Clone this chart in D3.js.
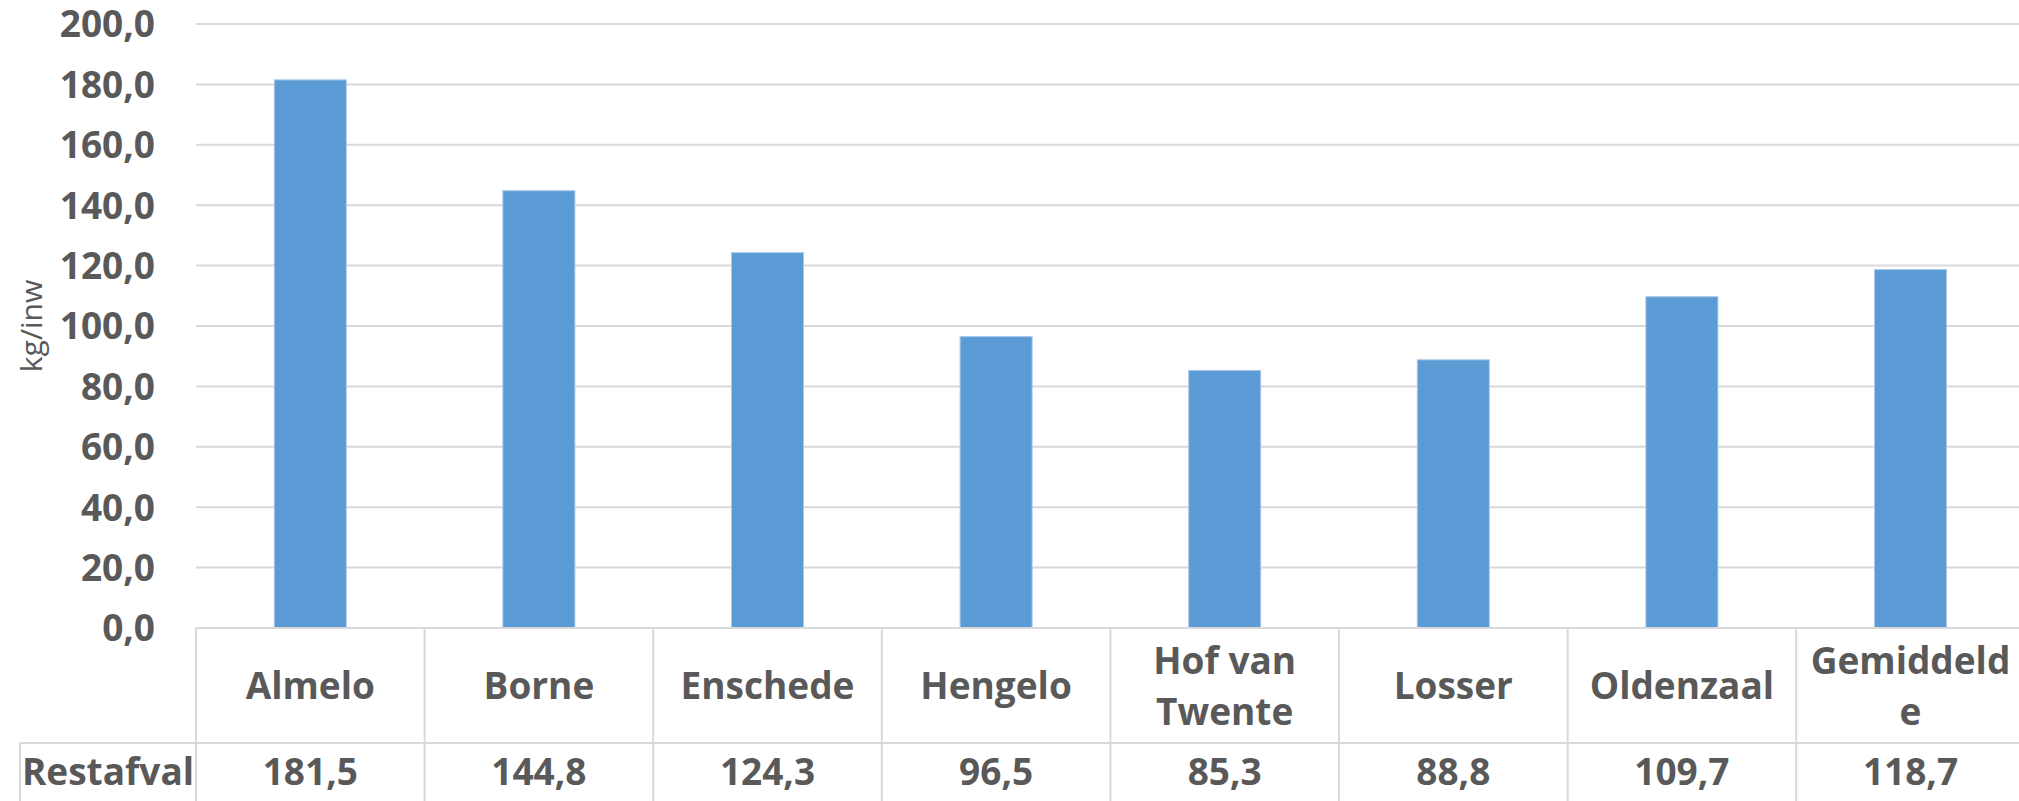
<!DOCTYPE html>
<html lang="nl">
<head>
  <meta charset="UTF-8">
  <title>Restafval kg/inw</title>
  <script src="https://d3js.org/d3.v7.min.js"></script>
  <style>
    html, body { margin: 0; padding: 0; background: #fff; }
    svg { display: block; }
    text { font-family: "Open Sans", "Liberation Sans", sans-serif; fill: #595959; }
    .tick-label, .cell { font-weight: 700; font-size: 37px; }
    .grid { stroke: #d9d9d9; stroke-width: 2; }
    .table-line { stroke: #d9d9d9; stroke-width: 2; fill: none; }
    .bar { fill: #5b9bd5; stroke: #a9c8ea; stroke-width: 1; }
  </style>
</head>
<body>
  <svg id="chart" width="2019" height="801"></svg>
  <script>
    // data
    const categories = ["Almelo", "Borne", "Enschede", "Hengelo", "Hof van Twente", "Losser", "Oldenzaal", "Gemiddelde"];
    // how the category names wrap in the table header
    const categoryLines = [["Almelo"], ["Borne"], ["Enschede"], ["Hengelo"], ["Hof van", "Twente"], ["Losser"], ["Oldenzaal"], ["Gemiddeld", "e"]];
    const seriesName = "Restafval";
    const restafval = [181.5, 144.8, 124.3, 96.5, 85.3, 88.8, 109.7, 118.7];
    const yTicks = [0, 20, 40, 60, 80, 100, 120, 140, 160, 180, 200];
    const yTitle = "kg/inw";

    // layout
    const plotLeft = 196, cellW = 228.6,
          plotRight = plotLeft + cellW * categories.length,
          plotTop = 24, plotBottom = 628,
          headerBottom = 743, tableLeft = 20, tableBottom = 801;

    const nl = d3.formatLocale({ decimal: ",", thousands: ".", grouping: [3], currency: ["€", ""] });
    const fmt = nl.format(".1f");

    const svg = d3.select("#chart");

    const x = d3.scaleBand()
      .domain(categories)
      .range([plotLeft, plotRight])
      .paddingInner(0.685)
      .paddingOuter(0.3425);

    const cells = d3.scaleBand()
      .domain(categories)
      .range([plotLeft, plotRight])
      .padding(0);

    const y = d3.scaleLinear()
      .domain([0, 200])
      .range([plotBottom, plotTop]);

    // gridlines
    svg.append("g").selectAll("line")
      .data(yTicks.filter(d => d > 0))
      .join("line")
      .attr("class", "grid")
      .attr("x1", plotLeft).attr("x2", 2019)
      .attr("y1", d => y(d)).attr("y2", d => y(d));

    // y tick labels
    svg.append("g").selectAll("text")
      .data(yTicks)
      .join("text")
      .attr("class", "tick-label")
      .attr("x", 155)
      .attr("y", d => y(d))
      .attr("dy", "0.36em")
      .attr("text-anchor", "end")
      .text(d => fmt(d));

    // y title
    svg.append("text")
      .attr("transform", `translate(42,${(plotTop + plotBottom) / 2}) rotate(-90)`)
      .attr("text-anchor", "middle")
      .style("font-size", "30px")
      .text(yTitle);

    // bars
    svg.append("g").selectAll("rect")
      .data(restafval)
      .join("rect")
      .attr("class", "bar")
      .attr("x", (d, i) => x(categories[i]))
      .attr("width", x.bandwidth())
      .attr("y", d => y(d))
      .attr("height", d => y(0) - y(d));

    // data table lines
    const t = svg.append("g");
    t.append("line").attr("class", "table-line")
      .attr("x1", plotLeft).attr("x2", 2019)
      .attr("y1", plotBottom).attr("y2", plotBottom);
    t.append("line").attr("class", "table-line")
      .attr("x1", tableLeft).attr("x2", 2019)
      .attr("y1", headerBottom).attr("y2", headerBottom);
    t.append("line").attr("class", "table-line")
      .attr("x1", tableLeft).attr("x2", tableLeft)
      .attr("y1", headerBottom).attr("y2", tableBottom);
    t.selectAll(".vline")
      .data(categories.concat(["end"]))
      .join("line")
      .attr("class", "table-line vline")
      .attr("x1", (d, i) => plotLeft + i * cells.bandwidth())
      .attr("x2", (d, i) => plotLeft + i * cells.bandwidth())
      .attr("y1", plotBottom).attr("y2", tableBottom);

    // header row: category names
    const headerMid = (plotBottom + headerBottom) / 2, lineH = 51, capHalf = 13.5;
    svg.append("g").selectAll("text")
      .data(categoryLines)
      .join("text")
      .attr("class", "cell")
      .attr("text-anchor", "middle")
      .each(function (lines, i) {
        const cx = cells(categories[i]) + cells.bandwidth() / 2;
        const y0 = headerMid + capHalf - (lines.length - 1) * lineH / 2;
        d3.select(this).selectAll("tspan")
          .data(lines)
          .join("tspan")
          .attr("x", cx)
          .attr("y", (l, j) => y0 + j * lineH)
          .text(l => l);
      });

    // value row
    const valueBase = 785;
    svg.append("text")
      .attr("class", "cell")
      .attr("x", (tableLeft + plotLeft) / 2)
      .attr("y", valueBase)
      .attr("text-anchor", "middle")
      .text(seriesName);

    svg.append("g").selectAll("text")
      .data(restafval)
      .join("text")
      .attr("class", "cell")
      .attr("x", (d, i) => cells(categories[i]) + cells.bandwidth() / 2)
      .attr("y", valueBase)
      .attr("text-anchor", "middle")
      .text(d => fmt(d));
  </script>
</body>
</html>
